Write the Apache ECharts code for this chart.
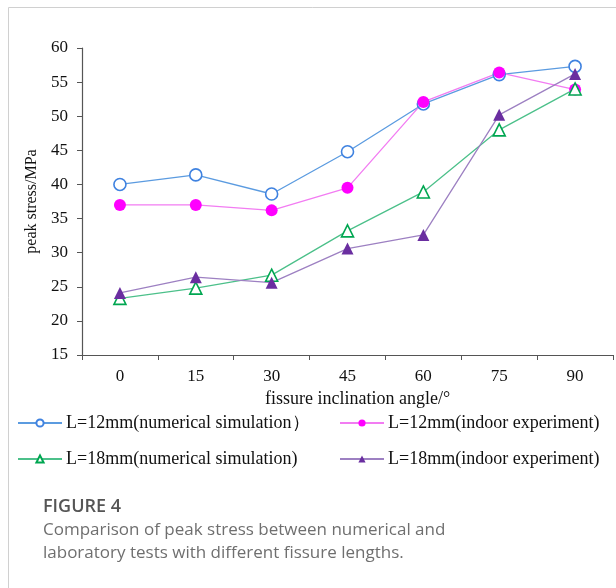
<!DOCTYPE html>
<html>
<head>
<meta charset="utf-8">
<script src="https://cdn.jsdelivr.net/npm/echarts@6/dist/echarts.min.js"></script>
<style>
  html, body { margin: 0; padding: 0; background: #fff; }
  #chart { width: 616px; height: 588px; }
</style>
</head>
<body>
<div id="chart"></div>
<script>
// Fissure inclination angles (degrees)
const angles = ['0', '15', '30', '45', '60', '75', '90'];

// Peak stress (MPa) for each fissure length and test method
const sim12 = [40.0, 41.4, 38.6, 44.8, 51.8, 56.1, 57.3];
const exp12 = [37.0, 37.0, 36.2, 39.5, 52.1, 56.4, 53.9];
const sim18 = [23.3, 24.8, 26.7, 33.2, 38.9, 48.0, 54.0];
const exp18 = [24.1, 26.4, 25.6, 30.6, 32.6, 50.2, 56.2];

const seriesNames = [
  'L=12mm(numerical simulation）',
  'L=12mm(indoor experiment)',
  'L=18mm(numerical simulation)',
  'L=18mm(indoor experiment)'
];

const yTicks = { min: 15, max: 60, step: 5 };

const serif = '"Liberation Serif", "DejaVu Serif", serif';
const sans = '"Open Sans", "Noto Sans", sans-serif';

function lineSeries(name, data, symbol, lineColor, markColor, filled) {
  return {
    name: name,
    type: 'line',
    data: data,
    symbol: symbol,
    symbolSize: 12,
    showAllSymbol: true,
    lineStyle: { color: lineColor, width: 1.3 },
    itemStyle: {
      color: filled ? markColor : '#fff',
      borderColor: markColor,
      borderWidth: filled ? 0 : 1.6
    },
    emphasis: { disabled: true }
  };
}

function legendAt(name, left, top) {
  return {
    data: [name],
    left: left,
    top: top,
    itemWidth: 44,
    itemHeight: 9,
    itemGap: 0,
    padding: 0,
    selectedMode: false,
    textStyle: { fontFamily: serif, fontSize: 18, color: '#111', padding: [0, 0, 0, -1] }
  };
}

const chart = echarts.init(document.getElementById('chart'), null, { renderer: 'canvas' });

chart.setOption({
  animation: false,
  backgroundColor: '#fff',
  grid: { left: 82, top: 48, right: 3, bottom: 233, containLabel: false },
  xAxis: {
    type: 'category',
    data: angles,
    boundaryGap: true,
    name: 'fissure inclination angle/°',
    nameLocation: 'middle',
    nameGap: 32,
    nameTextStyle: { fontFamily: serif, fontSize: 18, color: '#111', padding: [0, 0, 0, 20] },
    axisLine: { lineStyle: { color: '#555', width: 1.2 } },
    axisTick: { show: true, inside: false, length: 5, alignWithLabel: false, lineStyle: { color: '#555' } },
    axisLabel: { fontFamily: serif, fontSize: 17, color: '#111', margin: 13 },
    splitLine: { show: false }
  },
  yAxis: {
    type: 'value',
    min: yTicks.min,
    max: yTicks.max,
    interval: yTicks.step,
    name: 'peak stress/MPa',
    nameLocation: 'middle',
    nameGap: 34,
    nameRotate: 90,
    nameTextStyle: { fontFamily: serif, fontSize: 16, color: '#111' },
    axisLine: { show: true, lineStyle: { color: '#555', width: 1.2 } },
    axisTick: { show: true, inside: false, length: 5, lineStyle: { color: '#555' } },
    axisLabel: { fontFamily: serif, fontSize: 17, color: '#111', margin: 14 },
    splitLine: { show: false }
  },
  legend: [
    legendAt(seriesNames[0], 17, 414),
    legendAt(seriesNames[1], 339, 414),
    legendAt(seriesNames[2], 17, 450),
    legendAt(seriesNames[3], 339, 450)
  ],
  series: [
    lineSeries(seriesNames[0], sim12, 'circle', '#5b9be0', '#3f82e0', false),
    lineSeries(seriesNames[1], exp12, 'circle', '#f27cf2', '#ff00ff', true),
    lineSeries(seriesNames[2], sim18, 'triangle', '#4cc08a', '#00a651', false),
    lineSeries(seriesNames[3], exp18, 'triangle', '#9d80c2', '#6a2ea0', true)
  ],
  graphic: [
    // panel frame (top and left edges)
    { type: 'line', shape: { x1: 8.5, y1: 7.5, x2: 616, y2: 7.5 }, style: { stroke: '#d0d0d0', lineWidth: 1 }, silent: true },
    { type: 'line', shape: { x1: 8.5, y1: 7.5, x2: 8.5, y2: 588 }, style: { stroke: '#d0d0d0', lineWidth: 1 }, silent: true },
    // caption
    { type: 'text', left: 43, top: 498, style: { text: 'FIGURE 4', font: '600 18px ' + sans, fill: '#555' }, silent: true },
    { type: 'text', left: 43, top: 522, style: { text: 'Comparison of peak stress between numerical and', font: '17px ' + sans, fill: '#6f6f6f' }, silent: true },
    { type: 'text', left: 43, top: 545, style: { text: 'laboratory tests with different fissure lengths.', font: '17px ' + sans, fill: '#6f6f6f' }, silent: true }
  ]
});
</script>
</body>
</html>
